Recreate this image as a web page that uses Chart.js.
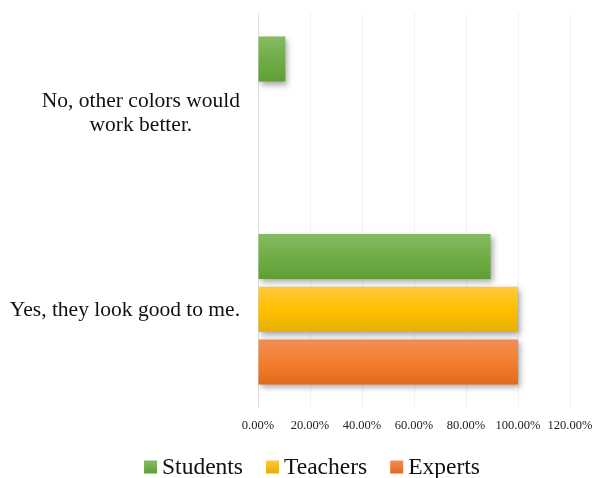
<!DOCTYPE html>
<html>
<head>
<meta charset="utf-8">
<script src="https://cdn.jsdelivr.net/npm/chart.js@4"></script>
<style>
  html, body { margin: 0; padding: 0; background: #fff; }
  canvas { display: block; }
</style>
</head>
<body>
<canvas id="colorChart" width="595" height="478"></canvas>
<script>
// survey answers, values in percent
const categories = [
  ['No, other colors would', 'work better.'],
  ['Yes, they look good to me.']
];
const seriesNames = ['Students', 'Teachers', 'Experts'];
const students = [10.53, 89.47];
const teachers = [0, 100];
const experts = [0, 100];
const xTicks = [0, 20, 40, 60, 80, 100, 120];

// top / middle / bottom stops of each bar gradient
const gradientStops = [
  ['#86bb63', '#70ad47', '#5f9e37'],
  ['#ffc83f', '#ffc000', '#e6af00'],
  ['#f18e59', '#f47e2e', '#e2691b']
];

const serif = '"Liberation Serif", "Times New Roman", serif';

// paint each bar with its own vertical gradient and a soft drop shadow
const barLook = {
  id: 'barLook',
  beforeDatasetsDraw(chart) {
    const ctx = chart.ctx;
    chart.data.datasets.forEach((ds, i) => {
      const stops = gradientStops[i];
      chart.getDatasetMeta(i).data.forEach(bar => {
        const top = bar.y - bar.height / 2;
        const g = ctx.createLinearGradient(0, top, 0, top + bar.height);
        g.addColorStop(0, stops[0]);
        g.addColorStop(0.5, stops[1]);
        g.addColorStop(1, stops[2]);
        bar.options.backgroundColor = g;
      });
    });
    ctx.save();
    ctx.shadowColor = 'rgba(0,0,0,0.35)';
    ctx.shadowBlur = 6;
    ctx.shadowOffsetX = 2;
    ctx.shadowOffsetY = 3;
  },
  afterDatasetsDraw(chart) {
    chart.ctx.restore();
  }
};

// category names, right edge at 240, multi-line names centred within their block
const categoryLabels = {
  id: 'categoryLabels',
  afterDraw(chart) {
    const ctx = chart.ctx;
    const yScale = chart.scales.y;
    ctx.save();
    ctx.font = '21.5px ' + serif;
    ctx.fillStyle = '#111';
    ctx.textAlign = 'center';
    ctx.textBaseline = 'alphabetic';
    categories.forEach((lines, i) => {
      const cy = yScale.getPixelForValue(i);
      const maxW = Math.max(...lines.map(l => ctx.measureText(l).width));
      const cx = 240 - maxW / 2;
      const lh = 24;
      lines.forEach((line, j) => {
        ctx.fillText(line, cx, cy + 7 - (lines.length - 1) * lh / 2 + j * lh);
      });
    });
    ctx.restore();
  }
};

// legend row along the bottom
const bottomLegend = {
  id: 'bottomLegend',
  afterDraw(chart) {
    const ctx = chart.ctx;
    ctx.save();
    ctx.font = '23.5px ' + serif;
    ctx.textBaseline = 'alphabetic';
    ctx.textAlign = 'left';
    const box = 13, gap = 5, spacing = 23;
    const widths = chart.data.datasets.map(ds => ctx.measureText(ds.label).width);
    const total = widths.reduce((a, w) => a + box + gap + w, 0) + spacing * (widths.length - 1);
    let x = 312 - total / 2;
    const baseline = 473.5;
    chart.data.datasets.forEach((ds, i) => {
      const stops = gradientStops[i];
      const g = ctx.createLinearGradient(0, baseline - box, 0, baseline);
      g.addColorStop(0, stops[0]);
      g.addColorStop(1, stops[2]);
      ctx.fillStyle = g;
      ctx.fillRect(x, baseline - box, box, box);
      x += box + gap;
      ctx.fillStyle = '#111';
      ctx.fillText(ds.label, x, baseline);
      x += widths[i] + spacing;
    });
    ctx.restore();
  }
};

const seriesData = [students, teachers, experts];

new Chart(document.getElementById('colorChart'), {
  type: 'bar',
  data: {
    labels: categories,
    datasets: seriesNames.map((name, i) => ({
      label: name,
      data: seriesData[i],
      backgroundColor: () => gradientStops[i][1],
      borderWidth: 0,
      categoryPercentage: 0.8,
      barPercentage: 0.855
    }))
  },
  options: {
    indexAxis: 'y',
    responsive: false,
    animation: false,
    devicePixelRatio: 1,
    layout: { padding: { left: 0, right: 25, top: 13, bottom: 45 } },
    plugins: {
      legend: { display: false },
      tooltip: { enabled: false }
    },
    scales: {
      x: {
        min: 0,
        max: 120,
        afterBuildTicks: scale => { scale.ticks = xTicks.map(v => ({ value: v })); },
        afterFit: scale => {
          scale.height = 25;
          scale.paddingLeft = 0;
          scale.paddingRight = 0;
        },
        grid: {
          color: c => (c.tick && c.tick.value === 0) ? '#e2e2e2' : '#f2f2f2',
          drawTicks: false
        },
        border: { display: false },
        ticks: {
          padding: 10,
          color: '#222',
          font: { family: serif, size: 12.5 },
          callback: v => v.toFixed(2) + '%'
        }
      },
      y: {
        grid: { display: false },
        border: { display: false },
        ticks: { display: false },
        afterFit: scale => { scale.width = 258; }
      }
    }
  },
  plugins: [barLook, categoryLabels, bottomLegend]
});
</script>
</body>
</html>
